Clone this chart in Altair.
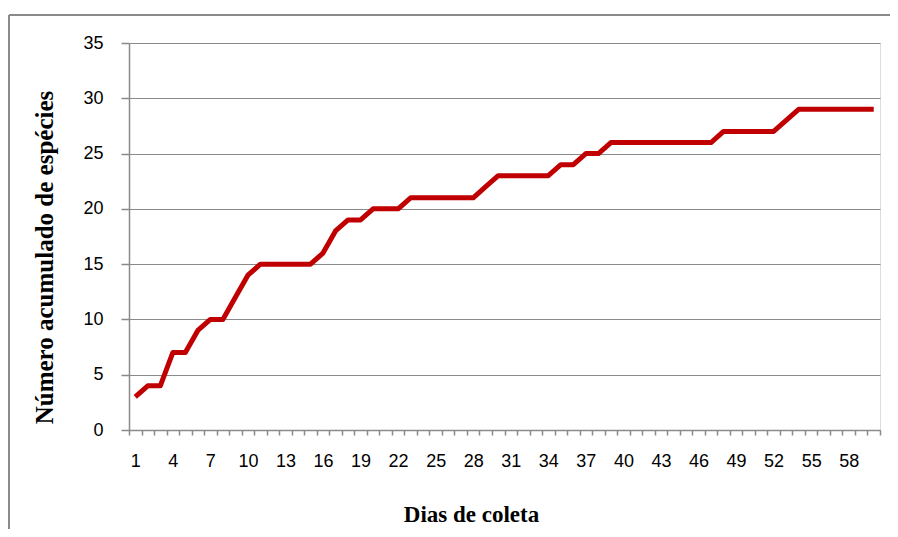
import altair as alt
import pandas as pd

# Data
days = list(range(1, 61))
species = [3, 4, 4, 7, 7, 9, 10, 10, 12, 14,
           15, 15, 15, 15, 15, 16, 18, 19, 19, 20,
           20, 20, 21, 21, 21, 21, 21, 21, 22, 23,
           23, 23, 23, 23, 24, 24, 25, 25, 26, 26,
           26, 26, 26, 26, 26, 26, 26, 27, 27, 27,
           27, 27, 28, 29, 29, 29, 29, 29, 29, 29]
x_label_values = list(range(1, 59, 3))
x_tick_values = [k + 0.5 for k in range(0, 61)]
y_values = [0, 5, 10, 15, 20, 25, 30, 35]

df = pd.DataFrame({"dia": days, "especies": species})

GRAY = "#8a8a8a"
W, H = 751, 387

x_axis = alt.Axis(
    values=sorted(x_tick_values + x_label_values),
    labelExpr="datum.value % 1 == 0 ? datum.label : ''",
    tickOpacity={"condition": {"test": "datum.value % 1 != 0", "value": 1}, "value": 0},
    labelOverlap=False,
    labelBound=False,
    grid=False,
    tickSize=5,
    tickColor=GRAY,
    tickWidth=1.5,
    domainColor=GRAY,
    domainWidth=1.5,
    labelFont="Liberation Sans",
    labelFontSize=18,
    labelColor="#000000",
    labelBaseline="middle",
    labelPadding=26,
    title="Dias de coleta",
    titleFont="Liberation Serif",
    titleFontWeight="bold",
    titleFontSize=23,
    titleColor="#000000",
    titleX=342,
    titleY=84,
    titleAlign="center",
    titleBaseline="middle",
)

y_axis = alt.Axis(
    values=y_values,
    grid=True,
    gridColor=GRAY,
    gridWidth=1,
    tickSize=8,
    tickColor=GRAY,
    tickWidth=1.5,
    domainColor=GRAY,
    domainWidth=1.5,
    labelFont="Liberation Sans",
    labelFontSize=18,
    labelColor="#000000",
    labelPadding=18,
    title="Número acumulado de espécies",
    titleFont="Liberation Serif",
    titleFontWeight="bold",
    titleFontSize=25,
    titleColor="#000000",
    titleX=-85,
    titleY=214,
    titleAlign="center",
    titleBaseline="middle",
)

line = alt.Chart(df).mark_line(
    color="#C00000", strokeWidth=5, strokeJoin="round", strokeCap="butt"
).encode(
    x=alt.X("dia:Q", scale=alt.Scale(domain=[0.5, 60.5], nice=False, zero=False), axis=x_axis),
    y=alt.Y("especies:Q", scale=alt.Scale(domain=[0, 35], nice=False), axis=y_axis),
)

frame_top = alt.Chart(df).mark_rule(color=GRAY, strokeWidth=2, clip=False).encode(
    x=alt.value(-120), x2=alt.value(800), y=alt.value(-28)
)
frame_left = alt.Chart(df).mark_rule(color=GRAY, strokeWidth=2, clip=False).encode(
    x=alt.value(-120), y=alt.value(-28), y2=alt.value(520)
)

chart = alt.layer(frame_top, frame_left, line).properties(
    width=W,
    height=H,
    autosize=alt.AutoSizeParams(type="none"),
    padding={"left": 121, "top": 35, "right": 10, "bottom": 99},
).configure_view(strokeWidth=0).configure(background="#ffffff")

chart.save("out.html", embed_options={"renderer": "svg", "actions": False})
